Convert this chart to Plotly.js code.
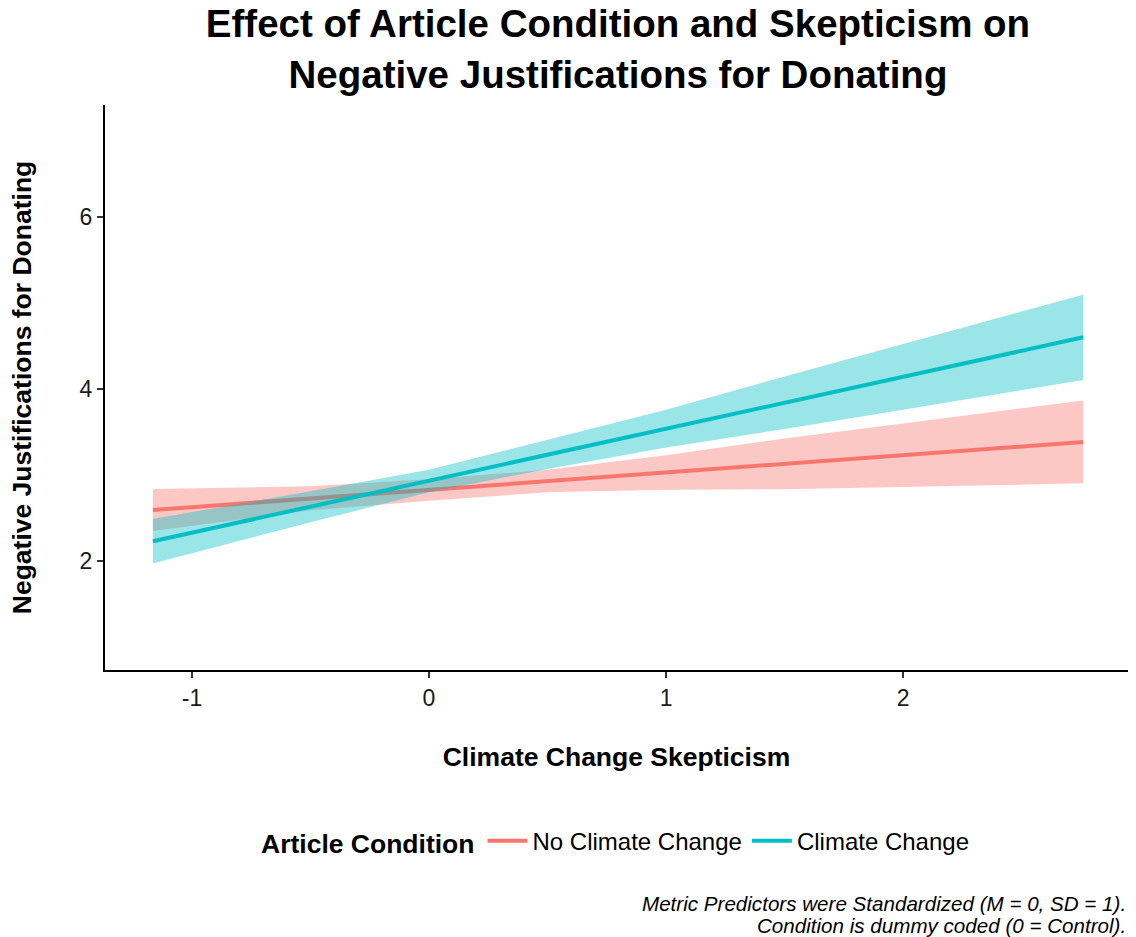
<!DOCTYPE html>
<html>
<head>
<meta charset="utf-8">
<script src="https://cdn.plot.ly/plotly-3.0.1.min.js"></script>
<style>
  html, body { margin: 0; padding: 0; background: #ffffff; }
  #chart { width: 1136px; height: 937px; }
</style>
</head>
<body>
<div id="chart"></div>
<script>
// Standardized skepticism values at which the fitted lines and bands are drawn
const skepticism = [-1.165, -0.5, 0, 0.5, 1, 1.5, 2, 2.5, 2.76];

// No Climate Change condition: fitted values and 95% confidence band
const noCcFit   = [2.593, 2.727, 2.828, 2.929, 3.030, 3.130, 3.231, 3.332, 3.384];
const noCcLower = [2.350, 2.590, 2.700, 2.800, 2.830, 2.835, 2.862, 2.889, 2.903];
const noCcUpper = [2.836, 2.870, 2.950, 3.060, 3.230, 3.425, 3.600, 3.775, 3.865];

// Climate Change condition: fitted values and 95% confidence band
const ccFit   = [2.230, 2.632, 2.934, 3.236, 3.538, 3.840, 4.142, 4.444, 4.601];
const ccLower = [1.970, 2.450, 2.800, 3.070, 3.320, 3.535, 3.760, 3.990, 4.105];
const ccUpper = [2.490, 2.810, 3.060, 3.410, 3.760, 4.145, 4.520, 4.900, 5.097];

const groupNames = ["No Climate Change", "Climate Change"];
const xTicks = [-1, 0, 1, 2];
const yTicks = [2, 4, 6];

const RED = "#F8766D";
const CYAN = "#00BFC4";

function band(lower, upper, fill) {
  return {
    type: "scatter",
    mode: "lines",
    x: skepticism.concat(skepticism.slice().reverse()),
    y: upper.concat(lower.slice().reverse()),
    fill: "toself",
    fillcolor: fill,
    line: { width: 0 },
    hoverinfo: "skip",
    showlegend: false
  };
}

function fitLine(y, color, name) {
  return {
    type: "scatter",
    mode: "lines",
    x: skepticism,
    y: y,
    name: name,
    line: { color: color, width: 4 },
    showlegend: true
  };
}

const traces = [
  band(noCcLower, noCcUpper, "rgba(248,118,109,0.4)"),
  fitLine(noCcFit, RED, groupNames[0]),
  band(ccLower, ccUpper, "rgba(0,191,196,0.4)"),
  fitLine(ccFit, CYAN, groupNames[1])
];

const FONT = "Liberation Sans, Arial, sans-serif";

const layout = {
  width: 1136,
  height: 937,
  paper_bgcolor: "#ffffff",
  plot_bgcolor: "#ffffff",
  font: { family: FONT, color: "#000000" },
  margin: { l: 105, r: 8, t: 105, b: 267 },
  title: {
    text: "<b>Effect of Article Condition and Skepticism on<br>Negative Justifications for Donating</b>",
    font: { family: FONT, size: 38.5, color: "#000000" },
    x: 0.544,
    xanchor: "center",
    xref: "container",
    y: 0.96,
    yanchor: "middle",
    yref: "container"
  },
  xaxis: {
    range: [-1.367, 2.949],
    tickvals: xTicks,
    ticktext: xTicks.map(String),
    showgrid: false,
    zeroline: false,
    showline: true,
    linecolor: "#000000",
    linewidth: 2,
    ticks: "outside",
    ticklen: 6,
    tickwidth: 1.5,
    tickcolor: "#333333",
    tickfont: { family: FONT, size: 23, color: "#1a1a1a" },
    title: {
      text: "<b>Climate Change Skepticism</b>",
      font: { family: FONT, size: 26.5, color: "#000000" },
      standoff: 38
    },
    fixedrange: true
  },
  yaxis: {
    range: [0.733, 7.302],
    tickvals: yTicks,
    ticktext: yTicks.map(String),
    showgrid: false,
    zeroline: false,
    showline: true,
    linecolor: "#000000",
    linewidth: 2,
    ticks: "outside",
    ticklen: 6,
    tickwidth: 1.5,
    tickcolor: "#333333",
    tickfont: { family: FONT, size: 23, color: "#1a1a1a" },
    title: {
      text: "<b>Negative Justifications for Donating</b>",
      font: { family: FONT, size: 26.5, color: "#000000" },
      standoff: 40
    },
    fixedrange: true
  },
  showlegend: true,
  legend: {
    orientation: "h",
    x: 0.5,
    xanchor: "center",
    y: -0.303,
    yanchor: "middle",
    font: { family: FONT, size: 24, color: "#000000" },
    title: {
      text: "<b>Article Condition</b>",
      font: { family: FONT, size: 26.5, color: "#000000" },
      side: "left"
    },
    itemwidth: 40,
    traceorder: "normal",
    bgcolor: "rgba(0,0,0,0)"
  },
  annotations: [
    {
      text: "<i>Metric Predictors were Standardized (M = 0, SD = 1).</i>",
      xref: "paper",
      yref: "paper",
      x: 1,
      xanchor: "right",
      y: -0.414,
      yanchor: "middle",
      showarrow: false,
      font: { family: FONT, size: 20.6, color: "#000000" }
    },
    {
      text: "<i>Condition is dummy coded (0 = Control).</i>",
      xref: "paper",
      yref: "paper",
      x: 1,
      xanchor: "right",
      y: -0.453,
      yanchor: "middle",
      showarrow: false,
      font: { family: FONT, size: 20.6, color: "#000000" }
    }
  ]
};

Plotly.newPlot("chart", traces, layout, { displayModeBar: false, staticPlot: true });
</script>
</body>
</html>
